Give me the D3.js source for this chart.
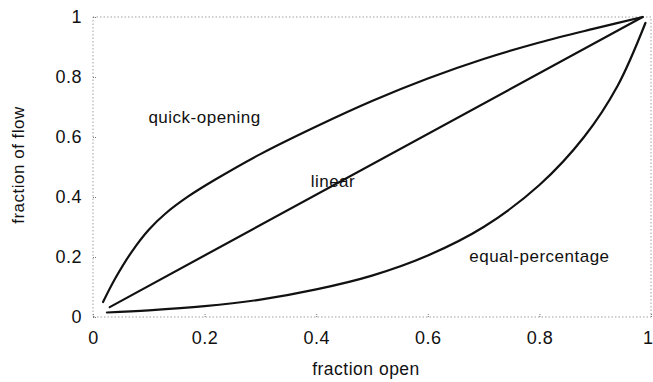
<!DOCTYPE html>
<html>
<head>
<meta charset="utf-8">
<script src="https://cdn.jsdelivr.net/npm/d3@7"></script>
<style>
  html, body { margin: 0; padding: 0; background: #fff; }
  svg { display: block; font-family: "Liberation Sans", Arial, sans-serif; }
</style>
</head>
<body>
<svg id="chart" width="653" height="382"></svg>
<script>
// Valve inherent flow characteristics
const tickValues = [0, 0.2, 0.4, 0.6, 0.8, 1];

const quickOpen = [0.018, 0.04, 0.07, 0.1, 0.13, 0.17, 0.22, 0.3, 0.4, 0.5, 0.6, 0.7, 0.8, 0.9, 0.985];
const quickFlow = [0.05, 0.129, 0.219, 0.291, 0.345, 0.401, 0.459, 0.543, 0.635, 0.72, 0.795, 0.86, 0.915, 0.962, 1.0];

const linearOpen = [0.03, 0.985];
const linearFlow = [0.033, 1.0];

const eqOpen = [0.025, 0.1, 0.2, 0.3, 0.4, 0.5, 0.6, 0.7, 0.8, 0.88, 0.94, 0.99];
const eqFlow = [0.015, 0.022, 0.036, 0.058, 0.092, 0.138, 0.205, 0.3, 0.44, 0.6, 0.77, 0.98];

const curveLabels = ["quick-opening", "linear", "equal-percentage"];
const labelOpen = [0.20, 0.43, 0.80];
const labelFlow = [0.663, 0.447, 0.197];

const svg = d3.select("#chart");
const plotLeft = 93, plotRight = 651, plotTop = 17, plotBottom = 317;

const x = d3.scaleLinear().domain([0, 1]).range([plotLeft, plotRight]);
const y = d3.scaleLinear().domain([0, 1]).range([plotBottom, plotTop]);

// dotted frame
svg.append("rect")
  .attr("x", plotLeft).attr("y", plotTop)
  .attr("width", plotRight - plotLeft).attr("height", plotBottom - plotTop)
  .attr("fill", "none").attr("stroke", "#888")
  .attr("stroke-width", 0.8).attr("stroke-dasharray", "1.5,2");

// axes with short inward ticks
const fmt = d3.format("~g");
const xAxis = d3.axisBottom(x).tickValues(tickValues).tickSize(-3).tickPadding(14).tickFormat(fmt);
const yAxis = d3.axisLeft(y).tickValues(tickValues).tickSize(-3).tickPadding(11).tickFormat(fmt);

const gx = svg.append("g").attr("transform", `translate(0,${plotBottom})`).call(xAxis);
const gy = svg.append("g").attr("transform", `translate(${plotLeft},0)`).call(yAxis);
[gx, gy].forEach(g => {
  g.select(".domain").remove();
  g.selectAll(".tick line").attr("stroke", "#777").attr("stroke-dasharray", "1,1");
  g.selectAll(".tick text").attr("font-size", 18).attr("fill", "#111")
    .attr("letter-spacing", 0.5)
    .attr("font-family", "Liberation Sans, Arial, sans-serif");
});
// last x label sits against the right edge of the page
gx.selectAll(".tick text").filter(d => d === 1).attr("text-anchor", "end").attr("dx", 2);

// curves
const line = d3.line().x(d => x(d[0])).y(d => y(d[1])).curve(d3.curveCatmullRom.alpha(0.5));
const series = [
  d3.zip(quickOpen, quickFlow),
  d3.zip(linearOpen, linearFlow),
  d3.zip(eqOpen, eqFlow)
];
svg.selectAll("path.curve").data(series).enter().append("path")
  .attr("class", "curve")
  .attr("d", line)
  .attr("fill", "none").attr("stroke", "#111").attr("stroke-width", 2.2)
  .attr("stroke-linecap", "round");

// curve labels
svg.selectAll("text.lbl").data(curveLabels).enter().append("text")
  .attr("class", "lbl")
  .attr("x", (d, i) => x(labelOpen[i]))
  .attr("y", (d, i) => y(labelFlow[i]))
  .attr("text-anchor", "middle").attr("dominant-baseline", "middle")
  .attr("font-size", 17).attr("letter-spacing", 0.5).attr("fill", "#111")
  .text(d => d);

// axis titles
svg.append("text").attr("x", 366).attr("y", 375)
  .attr("text-anchor", "middle").attr("font-size", 17.5).attr("letter-spacing", 0.5).attr("fill", "#111")
  .text("fraction open");
svg.append("text").attr("transform", "translate(24,165) rotate(-90)")
  .attr("text-anchor", "middle").attr("font-size", 17).attr("letter-spacing", 0.5).attr("fill", "#111")
  .text("fraction of flow");
</script>
</body>
</html>
